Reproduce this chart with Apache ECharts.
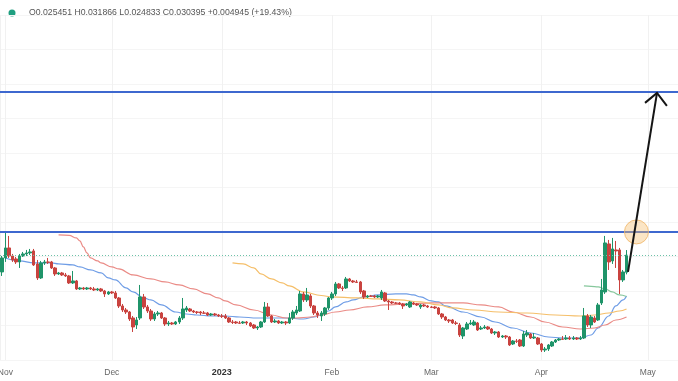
<!DOCTYPE html>
<html><head><meta charset="utf-8">
<script src="https://cdn.jsdelivr.net/npm/echarts@6/dist/echarts.min.js"></script>
<style>html,body{margin:0;padding:0;background:#fff}#c{width:678px;height:381px}</style>
</head><body><div id="c"></div>
<script>
// daily candles, first candle on this date
const firstCandleDate = '2022-10-31';
const candleOpen = [
0.02552,0.02958,0.03248,0.03016,0.02929,0.02842,0.03016,0.03074,0.03103,0.03161,
0.02784,0.02378,0.02813,0.02842,0.02842,0.02668,0.02494,0.02523,0.02465,0.02436,
0.02233,0.02291,0.02059,0.02088,0.02059,0.02088,0.02059,0.02030,0.02059,0.02001,
0.01914,0.01972,0.01943,0.01798,0.01566,0.01450,0.01392,0.01218,0.01015,0.01218,
0.01827,0.01537,0.01421,0.01189,0.01334,0.01363,0.01218,0.01044,0.01073,0.01044,
0.01102,0.01218,0.01450,0.01479,0.01421,0.01392,0.01392,0.01363,0.01363,0.01305,
0.01334,0.01305,0.01276,0.01276,0.01218,0.01102,0.01102,0.01073,0.01073,0.01102,
0.01073,0.01015,0.00928,0.00957,0.01102,0.01537,0.01276,0.01102,0.01131,0.01073,
0.01102,0.01073,0.01218,0.01363,0.01421,0.01914,0.01740,0.01856,0.01566,0.01363,
0.01276,0.01334,0.01508,0.01798,0.01914,0.02204,0.02088,0.02088,0.02349,0.02291,
0.02262,0.02262,0.02001,0.01827,0.01856,0.01856,0.01827,0.01798,0.01943,0.01711,
0.01682,0.01653,0.01653,0.01624,0.01595,0.01537,0.01653,0.01624,0.01537,0.01595,
0.01566,0.01537,0.01537,0.01508,0.01334,0.01247,0.01160,0.01160,0.01073,0.01015,
0.00696,0.00899,0.01044,0.01015,0.01073,0.00899,0.00928,0.00957,0.00899,0.00783,
0.00812,0.00667,0.00696,0.00667,0.00464,0.00551,0.00580,0.00406,0.00725,0.00754,
0.00638,0.00638,0.00464,0.00290,0.00319,0.00406,0.00522,0.00580,0.00609,0.00609,
0.00638,0.00609,0.00638,0.00609,0.00638,0.01276,0.01015,0.01218,0.01160,0.01653,
0.01972,0.03364,0.02871,0.03190,0.03190,0.02320,0.025451];
const candleClose = [
0.02958,0.03248,0.03016,0.02900,0.02842,0.03016,0.03074,0.03103,0.03132,0.02755,
0.02378,0.02813,0.02842,0.02830,0.02668,0.02494,0.02523,0.02465,0.02436,0.02233,
0.02291,0.02059,0.02088,0.02059,0.02088,0.02059,0.02030,0.02059,0.02001,0.01914,
0.01972,0.01943,0.01798,0.01566,0.01450,0.01392,0.01189,0.00957,0.01160,0.01827,
0.01537,0.01421,0.01189,0.01334,0.01363,0.01218,0.01044,0.01073,0.01044,0.01102,
0.01218,0.01479,0.01508,0.01421,0.01392,0.01380,0.01363,0.01355,0.01305,0.01334,
0.01305,0.01276,0.01265,0.01218,0.01102,0.01090,0.01073,0.01065,0.01102,0.01073,
0.00986,0.00928,0.00957,0.01102,0.01537,0.01276,0.01102,0.01131,0.01073,0.01102,
0.01073,0.01218,0.01392,0.01450,0.01914,0.01740,0.01885,0.01566,0.01363,0.01305,
0.01363,0.01508,0.01798,0.01914,0.02204,0.02088,0.02075,0.02349,0.02291,0.02262,
0.02250,0.01972,0.01827,0.01856,0.01845,0.01827,0.01856,0.01972,0.01711,0.01682,
0.01653,0.01645,0.01624,0.01566,0.01624,0.01682,0.01624,0.01595,0.01595,0.01566,
0.01537,0.01525,0.01508,0.01334,0.01247,0.01160,0.01131,0.01073,0.01060,0.00725,
0.00928,0.01044,0.01073,0.01102,0.00870,0.00928,0.00957,0.00899,0.00783,0.00812,
0.00667,0.00696,0.00667,0.00435,0.00551,0.00540,0.00406,0.00754,0.00783,0.00638,
0.00667,0.00464,0.00290,0.00319,0.00435,0.00522,0.00580,0.00609,0.00600,0.00638,
0.00609,0.00638,0.00609,0.00638,0.01276,0.01015,0.01247,0.01102,0.01595,0.02030,
0.03393,0.02842,0.03219,0.03161,0.02320,0.02552,0.030395];
const candleLow = [
0.02436,0.02842,0.02958,0.02842,0.02784,0.02668,0.02987,0.03016,0.03045,0.02726,
0.02320,0.02349,0.02755,0.02784,0.02639,0.02436,0.02465,0.02436,0.02407,0.02204,
0.02204,0.02030,0.02030,0.02030,0.02030,0.02030,0.02001,0.02001,0.01972,0.01827,
0.01885,0.01914,0.01769,0.01508,0.01392,0.01334,0.01131,0.00812,0.00899,0.01160,
0.01479,0.01363,0.01131,0.01131,0.01276,0.01189,0.00986,0.00986,0.01015,0.01015,
0.01044,0.01160,0.01392,0.01392,0.01363,0.01334,0.01305,0.01334,0.01276,0.01276,
0.01276,0.01247,0.01218,0.01189,0.01073,0.01044,0.01044,0.01044,0.01044,0.01015,
0.00957,0.00899,0.00870,0.00928,0.01073,0.01247,0.01073,0.01073,0.01044,0.01044,
0.01015,0.01044,0.01160,0.01305,0.01392,0.01682,0.01682,0.01508,0.01305,0.01218,
0.01131,0.01276,0.01450,0.01740,0.01856,0.02059,0.02001,0.02059,0.02262,0.02233,
0.02233,0.01914,0.01769,0.01798,0.01827,0.01798,0.01798,0.01740,0.01682,0.01450,
0.01624,0.01624,0.01595,0.01479,0.01566,0.01508,0.01595,0.01566,0.01479,0.01537,
0.01508,0.01508,0.01479,0.01305,0.01189,0.01131,0.01073,0.01044,0.01015,0.00667,
0.00609,0.00870,0.01015,0.00986,0.00841,0.00870,0.00899,0.00870,0.00754,0.00725,
0.00638,0.00638,0.00609,0.00406,0.00435,0.00493,0.00377,0.00377,0.00667,0.00609,
0.00609,0.00435,0.00232,0.00232,0.00261,0.00377,0.00493,0.00551,0.00580,0.00580,
0.00580,0.00580,0.00580,0.00580,0.00609,0.00957,0.00928,0.01073,0.01131,0.01595,
0.01914,0.02610,0.02784,0.02668,0.01914,0.02262,0.024833];
const candleHigh = [
0.03016,0.03712,0.03596,0.03074,0.02987,0.03074,0.03132,0.03190,0.03219,0.03219,
0.02900,0.02871,0.02900,0.02958,0.02871,0.02697,0.02552,0.02552,0.02523,0.02465,
0.02581,0.02320,0.02117,0.02117,0.02117,0.02117,0.02117,0.02088,0.02088,0.02030,
0.02001,0.02001,0.02001,0.01827,0.01624,0.01508,0.01421,0.01276,0.01247,0.02175,
0.01914,0.01595,0.01479,0.01392,0.01421,0.01392,0.01247,0.01131,0.01102,0.01131,
0.01276,0.01798,0.01566,0.01508,0.01450,0.01421,0.01421,0.01421,0.01392,0.01363,
0.01363,0.01334,0.01334,0.01334,0.01247,0.01160,0.01131,0.01131,0.01131,0.01131,
0.01102,0.01044,0.00986,0.01131,0.01682,0.01653,0.01305,0.01189,0.01160,0.01131,
0.01131,0.01363,0.01450,0.01566,0.02001,0.01972,0.02088,0.01914,0.01595,0.01421,
0.01421,0.01537,0.01827,0.01972,0.02262,0.02233,0.02146,0.02407,0.02378,0.02320,
0.02320,0.02291,0.02030,0.01885,0.01885,0.01885,0.01885,0.02030,0.01972,0.01740,
0.01711,0.01682,0.01682,0.01653,0.01653,0.01711,0.01682,0.01653,0.01624,0.01624,
0.01595,0.01566,0.01566,0.01537,0.01363,0.01276,0.01189,0.01189,0.01131,0.01073,
0.00957,0.01102,0.01160,0.01160,0.01102,0.00986,0.01015,0.00986,0.00928,0.00841,
0.00841,0.00725,0.00725,0.00696,0.00580,0.00609,0.00609,0.00841,0.00870,0.00783,
0.00783,0.00667,0.00493,0.00377,0.00464,0.00551,0.00609,0.00638,0.00696,0.00725,
0.00696,0.00696,0.00667,0.00696,0.01508,0.01334,0.01305,0.01276,0.01653,0.02349,
0.03596,0.03480,0.03538,0.03451,0.03248,0.02610,0.031866];

// moving averages (day offset from first candle, value)
const blueMaDays = [1,5,9,14,16,20,22,25,28,30,32,35,37,40,42,45,49,52,55,59,63,67,72,76,80,85,88,90,92,94,97,99,102,106,111,114,116,118,121,123,125,130,135,139,144,149,154,158,163,166,168,171,173,175,176];
const blueMaValues = [0.02958,0.02871,0.02813,0.02813,0.02784,0.02755,0.02697,0.02610,0.02523,0.02378,0.02320,0.02088,0.01972,0.01798,0.01740,0.01595,0.01392,0.01334,0.01305,0.01276,0.01276,0.01247,0.01218,0.01218,0.01218,0.01189,0.01247,0.01305,0.01421,0.01537,0.01682,0.01740,0.01827,0.01885,0.01914,0.01914,0.01885,0.01827,0.01711,0.01682,0.01566,0.01392,0.01247,0.01102,0.00928,0.00783,0.00667,0.00638,0.00638,0.00725,0.00928,0.01276,0.01566,0.01740,0.01856];
const redMaDays = [16,19,21,22,23,24,25,27,28,31,33,37,42,46,50,54,58,61,63,66,71,76,80,83,87,90,94,98,103,108,115,121,125,130,135,140,144,149,153,158,163,167,170,173,176];
const redMaValues = [0.03625,0.03611,0.03538,0.03451,0.03277,0.03103,0.02958,0.02871,0.02813,0.02697,0.02639,0.02465,0.02349,0.02262,0.02175,0.02059,0.01914,0.01798,0.01711,0.01595,0.01450,0.01305,0.01218,0.01218,0.01247,0.01305,0.01392,0.01450,0.01537,0.01595,0.01624,0.01653,0.01653,0.01653,0.01595,0.01537,0.01392,0.01247,0.01102,0.00957,0.00899,0.00928,0.01015,0.01160,0.01247];
const orangeMaDays = [65,68,71,73,76,79,81,85,90,93,100,106,112,118,123,127,133,140,148,156,163,167,171,174,176];
const orangeMaValues = [0.02813,0.02784,0.02668,0.02494,0.02349,0.02233,0.02146,0.01972,0.01870,0.01827,0.01798,0.01769,0.01740,0.01682,0.01595,0.01508,0.01450,0.01392,0.01363,0.01305,0.01276,0.01305,0.01363,0.01421,0.01479];
const greenMaDays = [164,166,168,170,172,174,176];
const greenMaValues = [0.02146,0.02132,0.02117,0.02059,0.01972,0.01885,0.01842];

// horizontal levels
const resistanceLevels = [0.07772, 0.03712];
const lastPrice = 0.030395;

// annotations
const arrowShaftDates = ['2023-04-25 10:00', '2023-05-03 14:00'];
const arrowShaftValues = [0.02552, 0.07743];
const arrowHeadDates = ['2023-04-30 05:00', '2023-05-03 14:00', '2023-05-06 09:00'];
const arrowHeadValues = [0.07453, 0.07743, 0.07366];
const circleDate = '2023-04-27 19:00';
const circleValue = 0.03712;

// axis
const xMinDate = '2022-10-30 12:00';
const xMaxDate = '2023-05-09 12:00';
const monthTickDates = ['2022-11-01','2022-12-01','2023-01-01','2023-02-01','2023-03-01','2023-04-01','2023-05-01'];
const monthTickLabels = ['Nov','Dec','2023','Feb','Mar','Apr','May'];
const headerText = 'O0.025451 H0.031866 L0.024833 C0.030395 +0.004945 (+19.43%)';

function parseDay(s){ const p = s.split('-').map(Number); return [p[0], p[1]-1, p[2]]; }
const fd = parseDay(firstCandleDate);
function dayTime(d){ return new Date(fd[0], fd[1], fd[2] + d).getTime(); }
const tickTimes = monthTickDates.map(s => { const p = parseDay(s); return new Date(p[0], p[1], p[2]).getTime(); });

const candleData = candleOpen.map((o, i) => [dayTime(i), o, candleClose[i], candleLow[i], candleHigh[i]]);
const maSeries = (days, vals) => days.map((d, i) => [dayTime(d), vals[i]]);
const pairs = (ds, vs) => ds.map((d, i) => [d, vs[i]]);

const UP = '#1f9469', DOWN = '#c9433f';
const chart = echarts.init(document.getElementById('c'), null, {renderer: 'canvas'});
const lineBase = {type: 'line', symbol: 'none', silent: true, smooth: 0.4, smoothMonotone: 'x', z: 3};

chart.setOption({
  animation: false,
  backgroundColor: '#ffffff',
  grid: {left: 0, right: 0, top: 15, bottom: 21, containLabel: false, outerBoundsMode: 'none'},
  xAxis: {
    type: 'time', min: xMinDate, max: xMaxDate, splitNumber: 6,
    axisLine: {show: false},
    axisTick: {show: false},
    axisLabel: {
      fontSize: 8.5, color: '#666', fontFamily: 'Liberation Sans', margin: 8,
      formatter: function (v) {
        const k = tickTimes.findIndex(t => Math.abs(t - v) < 3600000 * 3);
        if (k < 0) return '';
        const lab = monthTickLabels[k];
        return /^\d{4}$/.test(lab) ? '{b|' + lab + '}' : lab;
      },
      rich: {b: {fontWeight: 'bold', color: '#333', fontSize: 9, fontFamily: 'Liberation Sans'}}
    },
    splitLine: {show: true, lineStyle: {color: '#f1f1f1', width: 1}}
  },
  yAxis: {
    type: 'value', min: 0, max: 0.1, interval: 0.01,
    axisLine: {show: false}, axisTick: {show: false}, axisLabel: {show: false},
    splitLine: {show: true, lineStyle: {color: '#f5f5f5', width: 1}}
  },
  series: [
    {
      type: 'candlestick', data: candleData, encode: {x: 0, y: [1, 2, 3, 4]},
      barWidth: 3, silent: true, z: 4,
      itemStyle: {color: UP, color0: DOWN, borderColor: UP, borderColor0: DOWN, borderWidth: 1},
      markLine: {
        silent: true, symbol: 'none', label: {show: false}, animation: false, precision: 8,
        data: [
          {yAxis: resistanceLevels[0], lineStyle: {color: '#3e68cf', width: 2, type: 'solid'}},
          {yAxis: resistanceLevels[1], lineStyle: {color: '#3e68cf', width: 2, type: 'solid'}},
          {yAxis: lastPrice, lineStyle: {color: '#6cc2a8', width: 1, type: [1, 2]}}
        ]
      }
    },
    Object.assign({}, lineBase, {data: maSeries(blueMaDays, blueMaValues), lineStyle: {color: '#6f9de6', width: 1.2}}),
    Object.assign({}, lineBase, {data: maSeries(redMaDays, redMaValues), lineStyle: {color: '#ea8b86', width: 1.2}}),
    Object.assign({}, lineBase, {data: maSeries(orangeMaDays, orangeMaValues), lineStyle: {color: '#f5bf6a', width: 1.2}}),
    Object.assign({}, lineBase, {data: maSeries(greenMaDays, greenMaValues), lineStyle: {color: '#86c79c', width: 1.2}}),
    {
      type: 'scatter', silent: true, z: 5, data: [[circleDate, circleValue]],
      symbolSize: 24,
      itemStyle: {color: 'rgba(246,190,110,0.5)', borderColor: '#f0b566', borderWidth: 1}
    },
    {type: 'line', symbol: 'none', silent: true, z: 6, data: pairs(arrowShaftDates, arrowShaftValues), lineStyle: {color: '#151515', width: 2}},
    {type: 'line', symbol: 'none', silent: true, z: 6, data: pairs(arrowHeadDates, arrowHeadValues), lineStyle: {color: '#151515', width: 2, join: 'miter'}}
  ],
  graphic: [
    {type: 'circle', shape: {cx: 12, cy: 13, r: 3.5}, style: {fill: '#1f9f80'}, silent: true},
    {type: 'text', x: 29, y: 13, silent: true,
     style: {text: headerText, fontSize: 8.7, fontFamily: 'Liberation Sans', fill: '#555', verticalAlign: 'middle'}}
  ]
});
</script>
</body></html>
